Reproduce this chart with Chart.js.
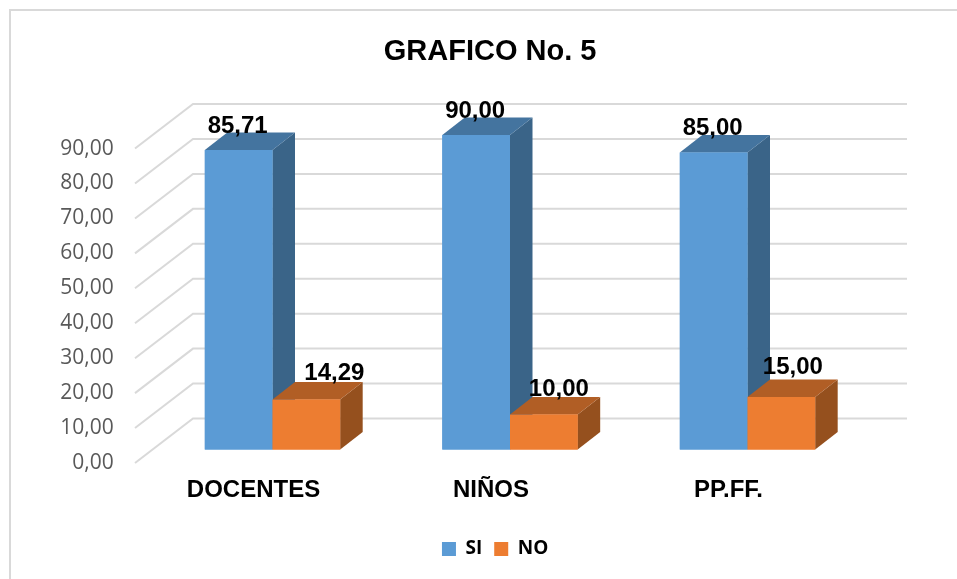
<!DOCTYPE html>
<html>
<head>
<meta charset="utf-8">
<title>GRAFICO No. 5</title>
<style>
  html, body { margin: 0; padding: 0; background: #fff; }
  canvas { display: block; }
</style>
<script src="https://cdn.jsdelivr.net/npm/chart.js@4"></script>
</head>
<body>
<canvas id="chart" width="957" height="579"></canvas>
<script>
const categories = ['DOCENTES', 'NIÑOS', 'PP.FF.'];
const siValues = [85.71, 90.00, 85.00];
const noValues = [14.29, 10.00, 15.00];
const yTicks = [0, 10, 20, 30, 40, 50, 60, 70, 80, 90];

// depth of the fake 3D look
const BAR_DX = 22.5, BAR_DY = 17.5;
const WALL_UP = 31, FLOOR_DOWN = 13.5, WALL_X = 193, FLOOR_X = 135, GRID_END = 907;

// hand placed data labels, relative to the bar top centre
const labelShift = [
  [[-1, -24], [-1, -24], [-1, -24]],
  [[28, -26], [15, -25], [11.5, -30]],
];

const fmt = v => v.toFixed(2).replace('.', ',');

function poly(ctx, pts, color) {
  ctx.fillStyle = color;
  ctx.beginPath();
  pts.forEach((p, i) => i ? ctx.lineTo(p[0], p[1]) : ctx.moveTo(p[0], p[1]));
  ctx.closePath();
  ctx.fill();
}

const frame3d = {
  id: 'frame3d',
  beforeDraw(chart) {
    const { ctx } = chart;
    ctx.save();
    ctx.fillStyle = '#fff';
    ctx.fillRect(0, 0, chart.width, chart.height);
    ctx.strokeStyle = '#d9d9d9';
    ctx.lineWidth = 2;
    ctx.beginPath();
    ctx.moveTo(10, chart.height);
    ctx.lineTo(10, 10);
    ctx.lineTo(chart.width, 10);
    ctx.stroke();
    ctx.restore();
  },
  beforeDatasetsDraw(chart) {
    const { ctx } = chart;
    const y = chart.scales.y;
    ctx.save();
    ctx.strokeStyle = '#d9d9d9';
    ctx.lineWidth = 2;
    yTicks.forEach(v => {
      const py = y.getPixelForValue(v);
      ctx.beginPath();
      ctx.moveTo(FLOOR_X, py + FLOOR_DOWN);
      ctx.lineTo(WALL_X, py - WALL_UP);
      ctx.lineTo(GRID_END, py - WALL_UP);
      ctx.stroke();
    });
    ctx.restore();
  },
  afterDatasetsDraw(chart) {
    const { ctx } = chart;
    const shades = [
      { top: '#44749f', side: '#3a6488' },
      { top: '#b15e25', side: '#95501e' },
    ];
    ctx.save();
    [0, 1].forEach(d => {
      chart.getDatasetMeta(d).data.forEach(bar => {
        const l = bar.x - bar.width / 2, r = bar.x + bar.width / 2;
        poly(ctx, [[r, bar.y], [r + BAR_DX, bar.y - BAR_DY], [r + BAR_DX, bar.base - BAR_DY], [r, bar.base]], shades[d].side);
        poly(ctx, [[l, bar.y], [l + BAR_DX, bar.y - BAR_DY], [r + BAR_DX, bar.y - BAR_DY], [r, bar.y]], shades[d].top);
        bar.draw(ctx);
      });
    });
    ctx.fillStyle = '#000';
    ctx.font = 'bold 24px "Liberation Sans"';
    ctx.textAlign = 'center';
    ctx.textBaseline = 'middle';
    [siValues, noValues].forEach((vals, d) => {
      chart.getDatasetMeta(d).data.forEach((bar, i) => {
        const s = labelShift[d][i];
        ctx.fillText(fmt(vals[i]), bar.x + s[0], bar.y + s[1]);
      });
    });
    ctx.restore();
  },
  afterLayout(chart) {
    // title and legend are centred on the picture, not on the shifted boxes
    chart.titleBlock.left += 60;
    chart.legend.left += 70;
  },
};

new Chart(document.getElementById('chart'), {
  type: 'bar',
  data: {
    labels: categories,
    datasets: [
      { label: 'SI', data: siValues, backgroundColor: '#5b9bd5', yAxisID: 'y' },
      { label: 'NO', data: noValues, backgroundColor: '#ed7d31', yAxisID: 'y' },
    ],
  },
  plugins: [frame3d],
  options: {
    responsive: false,
    animation: false,
    layout: { padding: { left: 54, right: 90.75, top: 0, bottom: 10.5 } },
    datasets: { bar: { categoryPercentage: 0.57, barPercentage: 1 } },
    plugins: {
      tooltip: { enabled: false },
      title: {
        display: true,
        text: 'GRAFICO No. 5',
        color: '#000',
        font: { family: '"Liberation Sans"', size: 29, weight: 'bold' },
        padding: { top: 34.6, bottom: 30.6 },
      },
      legend: {
        position: 'bottom',
        labels: {
          boxWidth: 14,
          boxHeight: 14,
          padding: 12,
          color: '#000',
          font: { family: '"Open Sans"', size: 19, weight: 'bold' },
        },
      },
    },
    scales: {
      x: {
        grid: { display: false },
        border: { display: false },
        ticks: {
          color: '#000',
          padding: 5,
          labelOffset: -19,
          maxRotation: 0,
          font: { family: '"Liberation Sans"', size: 24, weight: 'bold' },
        },
        afterFit(scale) { scale.height = 64.5; },
      },
      y: {
        display: false,
        min: -3.864,
        max: 100.03,
      },
      yFront: {
        position: 'left',
        min: 0,
        max: 103.894,
        grid: { display: false },
        border: { display: false },
        afterBuildTicks(scale) { scale.ticks = yTicks.map(v => ({ value: v })); },
        afterFit(scale) { scale.width = 99.75; },
        ticks: {
          color: '#595959',
          padding: 32,
          autoSkip: false,
          font: { family: '"Open Sans"', size: 21 },
          callback: v => fmt(v),
        },
      },
    },
  },
});
</script>
</body>
</html>
